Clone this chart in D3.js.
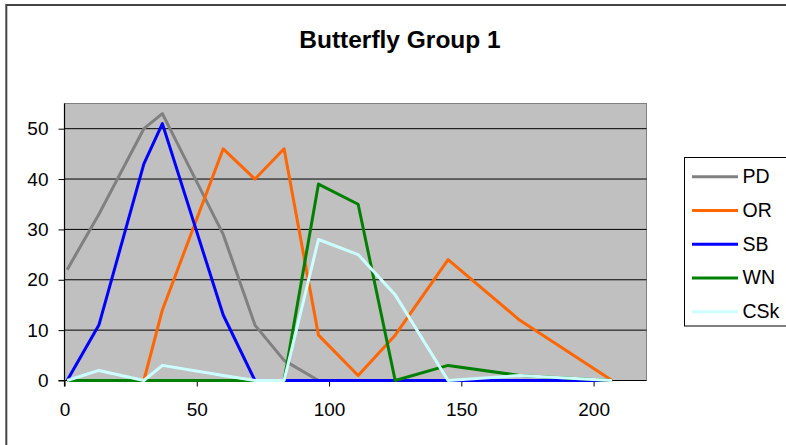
<!DOCTYPE html>
<html>
<head>
<meta charset="utf-8">
<script src="https://cdn.jsdelivr.net/npm/d3@7"></script>
<style>
    body { margin: 0; background: #fff; }
    svg { font-family: "Liberation Sans", Arial, sans-serif; }
</style>
</head>
<body>
<div id="chart"></div>
<script>
// sample positions (x axis) and counts per species
const xValues = [1, 13, 30, 37, 60, 72, 83, 96, 111, 125, 145, 172, 207];
const seriesNames = ["PD", "OR", "SB", "WN", "CSk"];
const pd  = [22, 33, 50, 53, 29, 11, 4, 0, 0, 0, 0, 0, 0];
const or  = [0, 0, 0, 14, 46, 40, 46, 9, 1, 9, 24, 12, 0];
const sb  = [0, 11, 43, 51, 13, 0, 0, 0, 0, 0, 0, 0, 0];
const wn  = [0, 0, 0, 0, 0, 0, 0, 39, 35, 0, 3, 1, 0];
const csk = [0, 2, 0, 3, 1, 0, 0, 28, 25, 17, 0, 1, 0];
const xTicks = [0, 50, 100, 150, 200];
const yTicks = [0, 10, 20, 30, 40, 50];
const colors = ["#808080", "#FF6600", "#0000FF", "#008000", "#CCFFFF"];

const width = 786, height = 445;
const margin = { top: 103.5, right: 139.5, bottom: 64.5, left: 64.5 };

const series = [pd, or, sb, wn, csk].map((vals, i) => ({
    name: seriesNames[i],
    color: colors[i],
    points: vals.map((v, j) => ({ x: xValues[j], y: v }))
}));

const svg = d3.select("#chart").append("svg")
    .attr("width", width)
    .attr("height", height);

// chart frame (runs off the right and bottom edges)
svg.append("rect")
    .attr("x", 6.3).attr("y", 5)
    .attr("width", 820).attr("height", 470)
    .attr("fill", "#fff")
    .attr("stroke", "#444")
    .attr("stroke-width", 2);

svg.append("text")
    .attr("x", 400).attr("y", 48)
    .attr("text-anchor", "middle")
    .attr("font-size", "24.5px")
    .attr("font-weight", "bold")
    .text("Butterfly Group 1");

const x = d3.scaleLinear().domain([0, 220]).range([margin.left, width - margin.right]);
const y = d3.scaleLinear().domain([0, 55]).range([height - margin.bottom, margin.top]);

// plot area
svg.append("rect")
    .attr("x", x(0)).attr("y", y(55))
    .attr("width", x(220) - x(0)).attr("height", y(0) - y(55))
    .attr("fill", "#C0C0C0")
    .attr("stroke", "#808080")
    .attr("stroke-width", 1);

// gridlines
svg.append("g")
    .selectAll("line")
    .data(yTicks.filter(d => d > 0))
    .join("line")
    .attr("x1", x(0)).attr("x2", x(220))
    .attr("y1", d => y(d)).attr("y2", d => y(d))
    .attr("stroke", "#000")
    .attr("stroke-width", 1);

const xAxis = svg.append("g")
    .attr("transform", `translate(0,${y(0)})`)
    .call(d3.axisBottom(x).tickValues(xTicks).tickSize(6).tickPadding(16).tickFormat(d3.format("d")));
const yAxis = svg.append("g")
    .attr("transform", `translate(${x(0)},0)`)
    .call(d3.axisLeft(y).tickValues(yTicks).tickSize(6).tickPadding(10).tickFormat(d3.format("d")));

[xAxis, yAxis].forEach(a => {
    a.select(".domain").attr("stroke", "#000").attr("stroke-width", 1.2);
    a.selectAll(".tick line").attr("stroke", "#000");
    a.selectAll(".tick text").attr("font-size", "19px").attr("fill", "#000")
        .attr("font-family", "'Liberation Sans', Arial, sans-serif");
});
// keep the bottom axis reaching the right edge of the plot area
xAxis.select(".domain").attr("d", `M${x(0)},6V0H${x(220)}`);
yAxis.select(".domain").attr("d", `M-6,${y(0)}H0V${y(55)}`);

const line = d3.line().x(d => x(d.x)).y(d => y(d.y));

svg.append("g")
    .attr("fill", "none")
    .attr("stroke-width", 3)
    .attr("stroke-linejoin", "round")
    .selectAll("path")
    .data(series)
    .join("path")
    .attr("stroke", d => d.color)
    .attr("d", d => line(d.points));

// legend
const legend = svg.append("g");
legend.append("rect")
    .attr("x", 684.5).attr("y", 157.5)
    .attr("width", 130).attr("height", 168.5)
    .attr("fill", "#fff")
    .attr("stroke", "#000");

const item = legend.selectAll("g.item")
    .data(series)
    .join("g")
    .attr("class", "item")
    .attr("transform", (d, i) => `translate(0,${176.7 + i * 33.75})`);
item.append("line")
    .attr("x1", 692).attr("x2", 738)
    .attr("stroke", d => d.color)
    .attr("stroke-width", 3);
item.append("text")
    .attr("x", 742.5).attr("y", 6.5)
    .attr("font-size", "19.5px")
    .text(d => d.name);
</script>
</body>
</html>
